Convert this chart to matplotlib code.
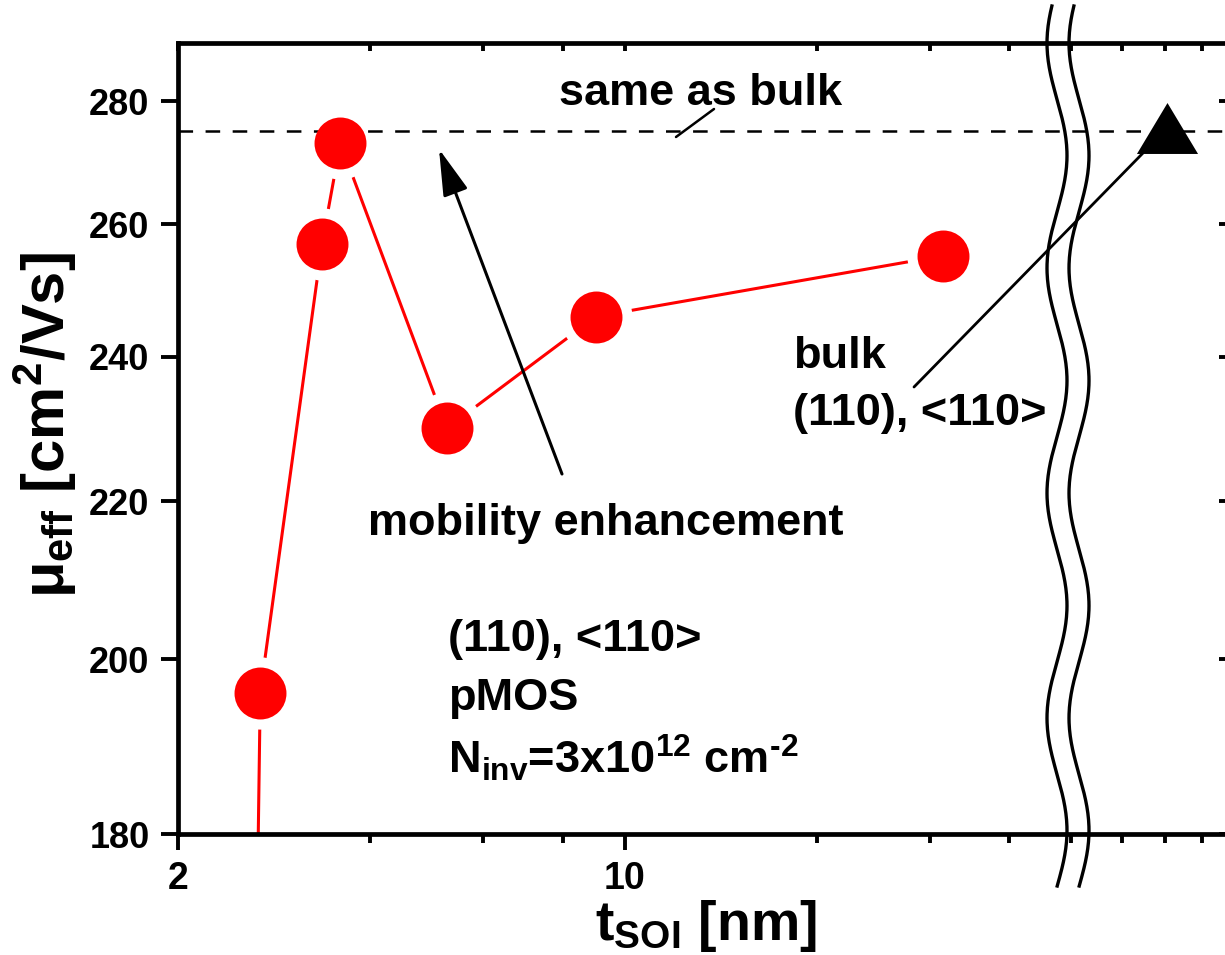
import numpy as np
import matplotlib
matplotlib.use("Agg")
import matplotlib.pyplot as plt
from matplotlib.lines import Line2D
from matplotlib.ticker import FixedLocator, FixedFormatter, NullLocator, NullFormatter

# ---- data ----
t_soi = [2.63, 2.69, 3.36, 3.59, 5.27, 9.02, 31.5]        # nm
mu_eff = [150.0, 196.0, 256.9, 273.0, 229.9, 245.9, 255.1]  # cm^2/Vs
bulk_t = [70.5]
bulk_mu = [275.5]
same_as_bulk = 275.0

x_major_ticks = [2, 10]
x_major_labels = ["2", "10"]
x_minor_ticks = [4, 6, 8, 20, 30, 40, 50, 60, 70, 80]
y_ticks = [180, 200, 220, 240, 260, 280]
y_labels = ["180", "200", "220", "240", "260", "280"]

plt.rcParams["font.family"] = ["Liberation Sans", "DejaVu Sans"]
plt.rcParams["font.weight"] = "bold"
plt.rcParams["mathtext.fontset"] = "custom"
plt.rcParams["mathtext.rm"] = "Liberation Sans:bold"
plt.rcParams["mathtext.it"] = "Liberation Sans:bold"
plt.rcParams["mathtext.bf"] = "Liberation Sans:bold"
plt.rcParams["lines.scale_dashes"] = False

W, H = 1225, 955
fig = plt.figure(figsize=(W / 100, H / 100), dpi=100)
L, R, T, B = 178, 1227, 43, 834
pos = [L / W, 1 - B / H, (R - L) / W, (B - T) / H]
ax = fig.add_axes(pos)

XLIM = (2, 87.6)
YLIM = (180, 290)

def setup(a):
    a.set_xscale("log")
    a.set_yscale("log")
    a.set_xlim(*XLIM)
    a.set_ylim(*YLIM)
    a.xaxis.set_major_locator(FixedLocator(x_major_ticks))
    a.xaxis.set_minor_locator(FixedLocator(x_minor_ticks))
    a.yaxis.set_major_locator(FixedLocator(y_ticks))
    a.yaxis.set_minor_locator(NullLocator())

setup(ax)
ax.xaxis.set_major_formatter(FixedFormatter(x_major_labels))
ax.xaxis.set_minor_formatter(NullFormatter())
ax.yaxis.set_major_formatter(FixedFormatter(y_labels))

for s in ax.spines.values():
    s.set_linewidth(3.4)
ax.tick_params(axis="x", which="major", direction="out", length=11.5, width=2.8,
               labelsize=27, pad=8, top=False)
ax.tick_params(axis="x", which="minor", direction="out", length=6.5, width=2.8, top=False)
ax.tick_params(axis="y", which="major", direction="out", length=12.5, width=2.8,
               labelsize=26, pad=8, right=False)

# overlay axes for inward top/right ticks
ax2 = fig.add_axes(pos, frameon=False)
setup(ax2)
ax2.xaxis.set_major_formatter(NullFormatter())
ax2.xaxis.set_minor_formatter(NullFormatter())
ax2.yaxis.set_major_formatter(NullFormatter())
ax2.tick_params(which="both", direction="in", length=6, width=2.8,
                bottom=False, left=False, top=True, right=True,
                labelbottom=False, labelleft=False)
ax2.patch.set_visible(False)

# ---- data marks ----
ax.plot(t_soi, mu_eff, color="red", lw=2.2, zorder=2)
ax.plot(t_soi, mu_eff, "o", ms=52, color="white", mec="none", zorder=3)
ax.axhline(same_as_bulk, color="black", lw=1.8, dashes=(10.5, 9), zorder=4)
ax.plot(t_soi, mu_eff, "o", ms=37.4, color="red", mec="none", zorder=5)
tri = [(-1.2, -1), (1.2, -1), (0, 1)]
ax.plot(bulk_t, bulk_mu, marker=tri, ms=44, color="black", mec="none",
        ls="none", zorder=6)

# ---- annotations ----
def axfrac(px, py):
    return ((px - L) / (R - L), (B - py) / (B - T))

ax.annotate("", xy=axfrac(439, 149), xytext=axfrac(562, 474),
            xycoords="axes fraction", textcoords="axes fraction",
            arrowprops=dict(arrowstyle="-|>,head_length=0.8,head_width=0.22",
                            mutation_scale=36, lw=2.2, color="black",
                            shrinkA=0, shrinkB=0), zorder=6)
ax.annotate("", xy=axfrac(1143, 153), xytext=axfrac(914, 387),
            xycoords="axes fraction", textcoords="axes fraction",
            arrowprops=dict(arrowstyle="-", lw=2.0, color="black",
                            shrinkA=0, shrinkB=0), zorder=5)
ax.annotate("", xy=axfrac(714, 109), xytext=axfrac(676, 137),
            xycoords="axes fraction", textcoords="axes fraction",
            arrowprops=dict(arrowstyle="-", lw=1.8, color="black",
                            shrinkA=0, shrinkB=0), zorder=5)

fs = 32.5
def txt(px, py, s, **kw):
    x, y = axfrac(px, py)
    ax.text(x, y, s, transform=ax.transAxes, fontsize=fs, fontweight="bold",
            ha="left", va="baseline", **kw)

txt(559, 105, "same as bulk")
txt(368, 535, "mobility enhancement")
txt(793, 368, "bulk")
txt(793, 425, "(110), <110>")
txt(448, 651, "(110), <110>")
txt(448, 710, "pMOS")
txt(448, 773, r"N$_{inv}$=3x10$^{12}$ cm$^{\text{-}2}$")

# ---- axis titles ----
fig.text(706 / W, 1 - 926 / H, r"t$_{SOI}$ [nm]", fontsize=40, fontweight="bold",
         ha="center", va="center")
fig.text(45 / W, 1 - 425 / H, r"$\mu_{eff}$ [cm$^2$/Vs]", fontsize=43,
         fontweight="bold", ha="center", va="center", rotation=90)

# ---- axis break (wavy lines) ----
yy = np.linspace(6, 886, 400)
xx = 1057 - 10 * np.cos(2 * np.pi * (yy - 43) / 225)
for off in (0, 22):
    fig.add_artist(Line2D((xx + off) / W, 1 - yy / H, transform=fig.transFigure,
                          color="black", lw=2.4, zorder=10))

fig.savefig("out.png", dpi=100)
